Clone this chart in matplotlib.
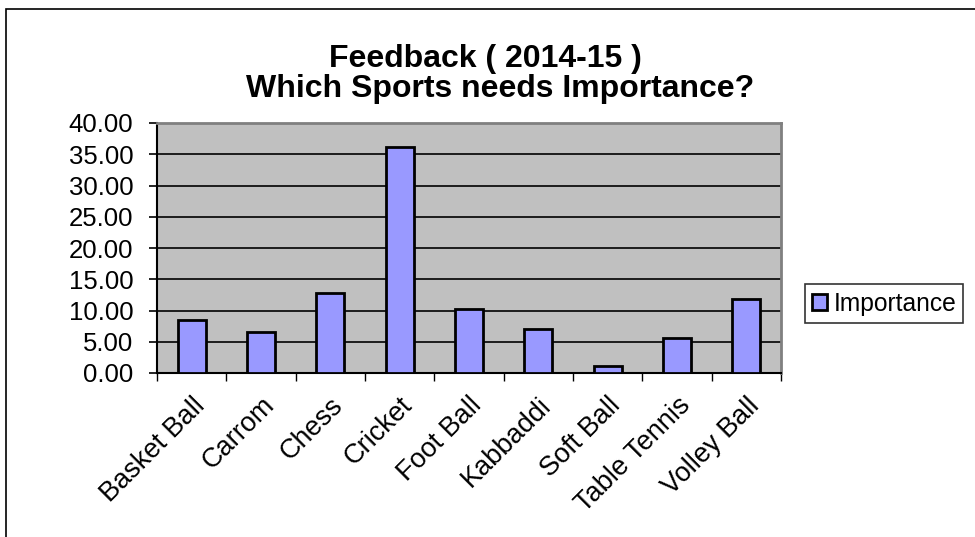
import matplotlib
matplotlib.use("Agg")
import matplotlib.pyplot as plt
from matplotlib.patches import Patch, Rectangle
from matplotlib.transforms import ScaledTranslation
import numpy as np

categories = ["Basket Ball", "Carrom", "Chess", "Cricket", "Foot Ball",
              "Kabbaddi", "Soft Ball", "Table Tennis", "Volley Ball"]
importance = [8.53, 6.61, 12.75, 36.10, 10.19, 7.09, 1.12, 5.55, 11.84]
yticks = [0, 5, 10, 15, 20, 25, 30, 35, 40]
series_name = "Importance"
title_line1 = "Feedback ( 2014-15 )"
title_line2 = "Which Sports needs Importance?"

plt.rcParams['font.family'] = ['Liberation Sans', 'DejaVu Sans']

W, H = 975, 537
fig = plt.figure(figsize=(W / 100, H / 100), dpi=100)

# outer chart border
fig.patches.append(Rectangle((6 / W, -0.1), 1.2, 1 - 9 / H + 0.1,
                             transform=fig.transFigure, fill=False,
                             edgecolor='black', linewidth=1.2))

ax = fig.add_axes([157 / W, 1 - 373 / H, (781 - 157) / W, (373 - 123) / H])
ax.set_facecolor('#C0C0C0')

x = np.arange(len(categories))
ax.bar(x, importance, width=0.4, color='#9999FF', edgecolor='black',
       linewidth=2.0, zorder=3)

ax.set_xlim(-0.5, len(categories) - 0.5)
ax.set_ylim(0, 40)
ax.set_yticks(yticks)
ax.set_yticklabels([f"{v:.2f}" for v in yticks], fontsize=18.5)
ax.yaxis.grid(True, color='black', linewidth=1.2, zorder=1)
ax.set_axisbelow(True)

ax.set_xticks(x)
ax.set_xticklabels(categories, rotation=45, ha='right', rotation_mode='anchor',
                   fontsize=19.5)
offset = ScaledTranslation(-9 / 100, 0, fig.dpi_scale_trans)
for lbl in ax.get_xticklabels():
    lbl.set_transform(lbl.get_transform() + offset)
ax.set_xticks(np.arange(-0.5, len(categories)), minor=True)
ax.tick_params(axis='x', which='major', length=0, pad=14)
ax.tick_params(axis='x', which='minor', length=6, width=1, color='black',
               direction='out')
ax.tick_params(axis='y', length=6, width=1.2, pad=11, direction='out')

for side in ['top', 'right']:
    ax.spines[side].set_color('#808080')
    ax.spines[side].set_linewidth(2)
ax.spines['left'].set_color('black')
ax.spines['left'].set_linewidth(1.5)
ax.spines['bottom'].set_color('black')
ax.spines['bottom'].set_linewidth(1.5)

fig.text(485 / W, 1 - 59.5 / H, title_line1, ha='center', va='center',
         fontsize=23, fontweight='bold')
fig.text(500 / W, 1 - 89 / H, title_line2, ha='center', va='center',
         fontsize=23, fontweight='bold')

handle = Patch(facecolor='#9999FF', edgecolor='black', linewidth=2)
leg = fig.legend([handle], [series_name], loc='center left',
                 bbox_to_anchor=(805 / W, 1 - 303.5 / H), fontsize=17.7,
                 frameon=True, fancybox=False, shadow=False,
                 handlelength=0.6, handleheight=0.6, handletextpad=0.25,
                 borderpad=0.3, borderaxespad=0)
leg.get_frame().set_edgecolor('black')
leg.get_frame().set_linewidth(1.2)

fig.savefig("out.png", dpi=100)
